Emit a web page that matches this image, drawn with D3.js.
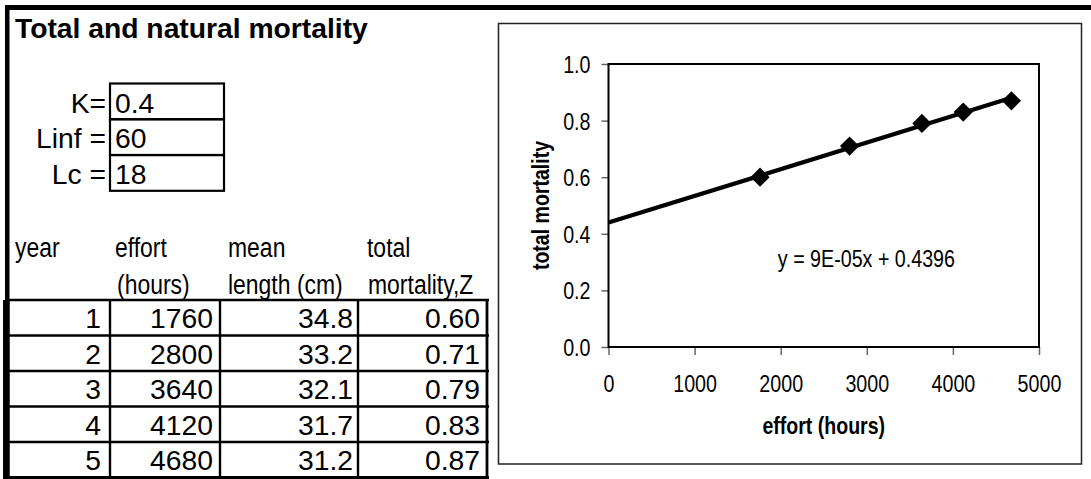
<!DOCTYPE html>
<html>
<head>
<meta charset="utf-8">
<script src="https://cdn.jsdelivr.net/npm/d3@7"></script>
<style>
  html, body { margin: 0; padding: 0; background: #fff; }
  svg { display: block; }
  text { font-family: "Liberation Sans", Arial, sans-serif; fill: #000; }
</style>
</head>
<body>
<svg id="chart" width="1091" height="479"></svg>
<script>
// ---------- data ----------
const title = "Total and natural mortality";
const paramLabels = ["K=", "Linf =", "Lc ="];
const paramValues = ["0.4", "60", "18"];
const headerLine1 = ["year", "effort", "mean", "total"];
const headerLine2 = ["", "(hours)", "length (cm)", "mortality,Z"];
const years = [1, 2, 3, 4, 5];
const effort = [1760, 2800, 3640, 4120, 4680];
const meanLength = [34.8, 33.2, 32.1, 31.7, 31.2];
const totalZ = [0.60, 0.71, 0.79, 0.83, 0.87];
const trendIntercept = 0.4396;
const trendLabel = "y = 9E-05x + 0.4396";
const xTicks = [0, 1000, 2000, 3000, 4000, 5000];
const yTicks = [0.0, 0.2, 0.4, 0.6, 0.8, 1.0];
const xTitle = "effort (hours)";
const yTitle = "total mortality";

// ---------- helpers ----------
const svg = d3.select("#chart");

function txt(g, x, y, s, o = {}) {
  const sx = o.sx == null ? 1 : o.sx;
  const rot = o.rotate ? ` rotate(${o.rotate})` : "";
  return g.append("text")
    .attr("transform", `translate(${x},${y})${rot} scale(${sx},1)`)
    .attr("text-anchor", o.anchor || "start")
    .attr("font-size", o.size || 26)
    .attr("font-weight", o.weight || "normal")
    .text(s);
}

// ---------- spreadsheet side ----------
const sheet = svg.append("g");
const SS = 28, SX = 1.01;

// outer frame (thick top + left)
sheet.append("rect").attr("x", 5).attr("y", 5).attr("width", 1086).attr("height", 5).attr("fill", "#000");
sheet.append("rect").attr("x", 5).attr("y", 5).attr("width", 4.5).attr("height", 474).attr("fill", "#000");

txt(sheet, 15, 38, title, { size: SS, weight: "bold", sx: SX });

// parameter boxes
const pRow = d3.scaleBand().domain(paramLabels).range([83.5, 190.8]);
paramLabels.forEach((lab, i) => {
  const y0 = pRow(lab);
  sheet.append("rect")
    .attr("x", 110).attr("y", y0)
    .attr("width", 114).attr("height", pRow.bandwidth())
    .attr("fill", "none").attr("stroke", "#000").attr("stroke-width", 2.2);
  txt(sheet, 106, y0 + 29, lab, { size: SS, sx: SX, anchor: "end" });
  txt(sheet, 115, y0 + 29, paramValues[i], { size: SS, sx: SX });
});

// table header
const headerX1 = [15, 115, 228, 367];
const headerX2 = [15, 117, 228, 368];
headerLine1.forEach((h, i) => txt(sheet, headerX1[i], 257, h, { size: 27, sx: 0.85 }));
headerLine2.forEach((h, i) => { if (h) txt(sheet, headerX2[i], 294, h, { size: 27, sx: 0.85 }); });

// table body
const colEdges = [7, 110, 220, 358, 487];
const rowBand = d3.scaleBand().domain(years).range([300, 477.5]);
const fmtZ = d3.format(".2f"), fmtL = d3.format(".1f");
const columns = [
  years.map(String),
  effort.map(String),
  meanLength.map(fmtL),
  totalZ.map(fmtZ)
];
const pads = [9, 7, 5, 7];

// grid
years.forEach(yr => {
  sheet.append("line")
    .attr("x1", 5).attr("x2", 489)
    .attr("y1", rowBand(yr)).attr("y2", rowBand(yr))
    .attr("stroke", "#000").attr("stroke-width", 2.6);
});
sheet.append("line").attr("x1", 5).attr("x2", 489)
  .attr("y1", 477.5).attr("y2", 477.5).attr("stroke", "#000").attr("stroke-width", 3);
colEdges.slice(1).forEach((cx, i) => {
  sheet.append("line")
    .attr("x1", cx).attr("x2", cx)
    .attr("y1", 300).attr("y2", 478.5)
    .attr("stroke", "#000").attr("stroke-width", i === 3 ? 2.8 : 2.4);
});
// thicker left edge of table
sheet.append("rect").attr("x", 3).attr("y", 300).attr("width", 6.5).attr("height", 179).attr("fill", "#000");

columns.forEach((col, c) => {
  col.forEach((v, r) => {
    txt(sheet, colEdges[c + 1] - pads[c], rowBand(years[r]) + 28, v,
        { size: SS, sx: SX, anchor: "end" });
  });
});

// ---------- chart side ----------
const chart = svg.append("g");
chart.append("rect")
  .attr("x", 498.5).attr("y", 23.5).attr("width", 583).attr("height", 440.5)
  .attr("fill", "#fff").attr("stroke", "#222").attr("stroke-width", 1.5);

const plot = { left: 608.5, right: 1039, top: 64, bottom: 347 };
const x = d3.scaleLinear().domain([0, 5000]).range([plot.left, plot.right]);
const y = d3.scaleLinear().domain([0, 1]).range([plot.bottom, plot.top]);

const CS = 24, CSX = 0.82;

// y axis
const gy = chart.append("g").attr("transform", `translate(${plot.left},0)`)
  .call(d3.axisLeft(y).tickValues(yTicks).tickFormat(d3.format(".1f")).tickSize(7).tickPadding(0));
gy.select(".domain").remove();
gy.selectAll(".tick line").attr("stroke", "#666").attr("stroke-width", 1.5);
gy.selectAll(".tick text")
  .attr("x", null).attr("dy", null)
  .attr("transform", `translate(-18,8.5) scale(${CSX},1)`)
  .attr("font-size", CS).attr("font-family", "Liberation Sans, Arial, sans-serif")
  .attr("fill", "#000");

// x axis
const gx = chart.append("g").attr("transform", `translate(0,${plot.bottom})`)
  .call(d3.axisBottom(x).tickValues(xTicks).tickFormat(d3.format("d")).tickSize(8).tickPadding(0));
gx.select(".domain").remove();
gx.selectAll(".tick line").attr("stroke", "#666").attr("stroke-width", 1.5);
gx.selectAll(".tick text")
  .attr("y", null).attr("dy", null)
  .attr("transform", `translate(0,45) scale(${CSX},1)`)
  .attr("font-size", CS).attr("font-family", "Liberation Sans, Arial, sans-serif")
  .attr("fill", "#000");

// plot border
chart.append("rect")
  .attr("x", plot.left).attr("y", plot.top)
  .attr("width", plot.right - plot.left).attr("height", plot.bottom - plot.top)
  .attr("fill", "none").attr("stroke", "#000").attr("stroke-width", 2);

// trendline (through centroid, with the displayed intercept)
const meanX = d3.mean(effort), meanY = d3.mean(totalZ);
const slope = (meanY - trendIntercept) / meanX;
const trendX = [0, d3.max(effort)];
chart.append("path")
  .datum(trendX)
  .attr("d", d3.line().x(d => x(d)).y(d => y(trendIntercept + slope * d)))
  .attr("fill", "none").attr("stroke", "#000").attr("stroke-width", 4.2);

// markers
const diamond = d3.symbol().type(d3.symbolSquare).size(185);
chart.selectAll(".pt").data(effort).join("path")
  .attr("class", "pt")
  .attr("d", diamond)
  .attr("transform", (d, i) => `translate(${x(d)},${y(totalZ[i])}) rotate(45)`)
  .attr("fill", "#000");

// equation label
txt(chart, 955, 267, trendLabel, { size: CS, sx: CSX, anchor: "end" });

// axis titles
txt(chart, (plot.left + plot.right) / 2, 434, xTitle, { size: 23, weight: "bold", sx: 0.85, anchor: "middle" });
txt(chart, 549, (plot.top + plot.bottom) / 2, yTitle, { size: 23, weight: "bold", sx: 0.85, anchor: "middle", rotate: -90 });
</script>
</body>
</html>
